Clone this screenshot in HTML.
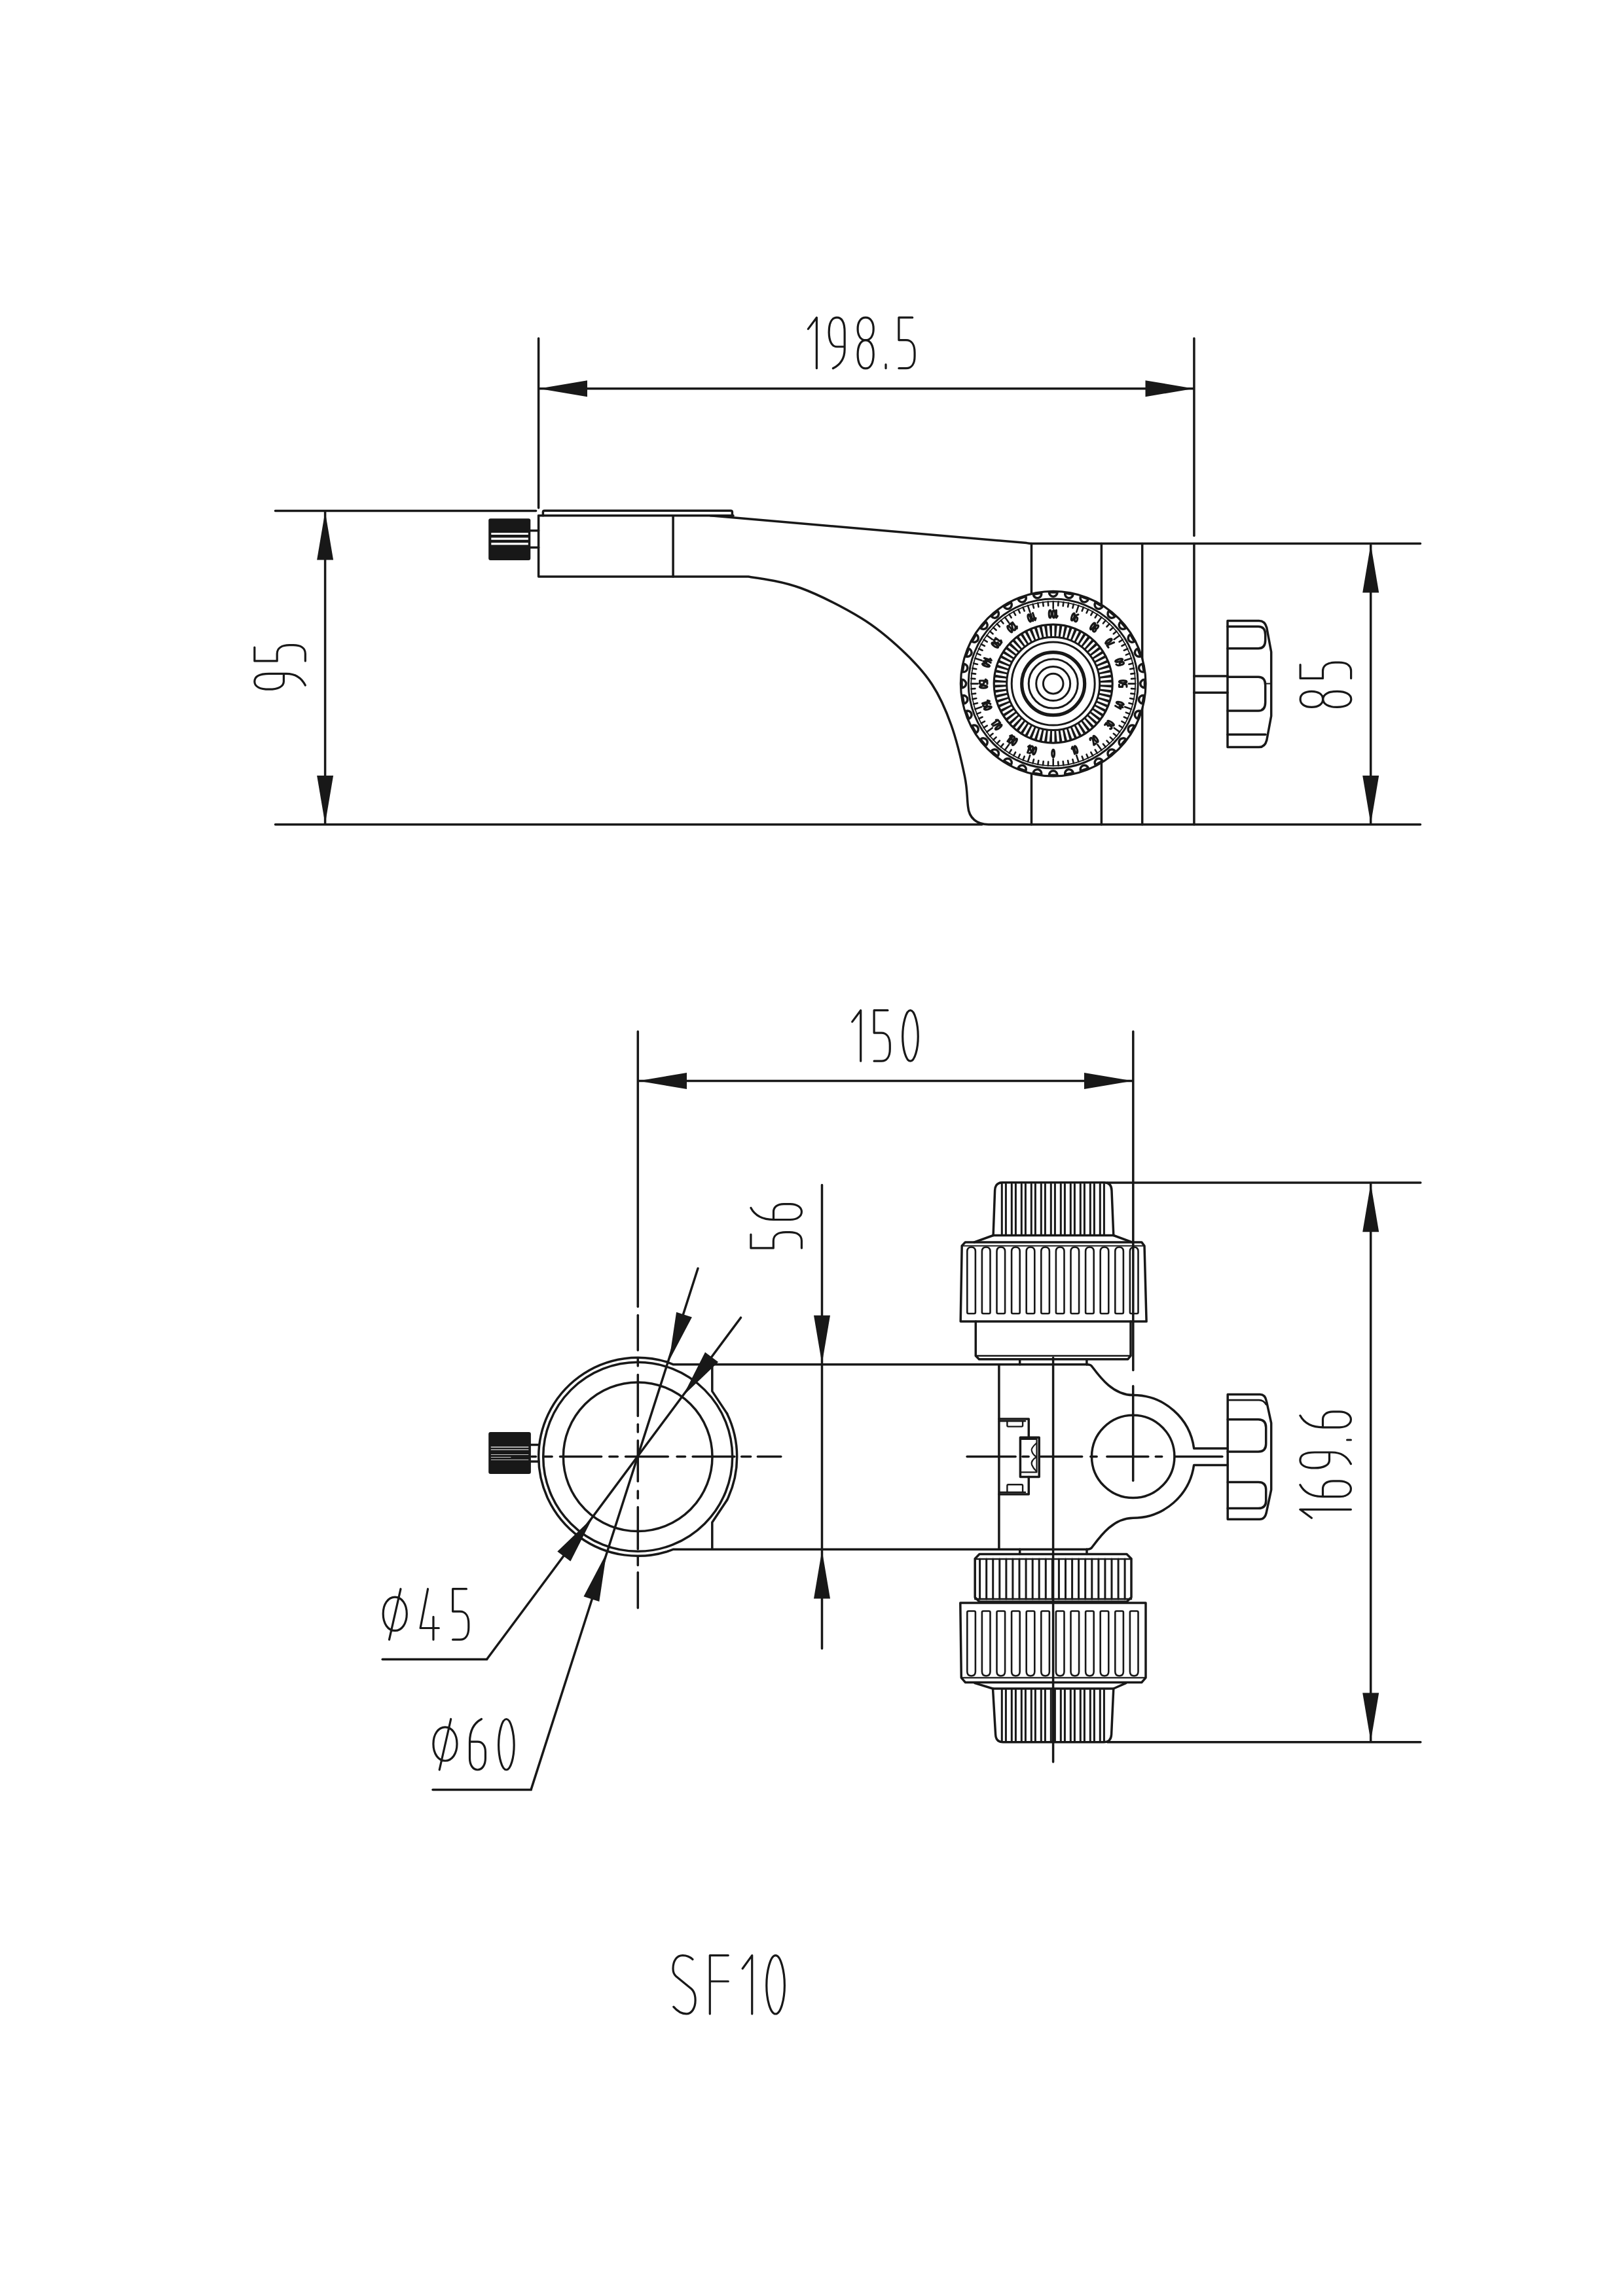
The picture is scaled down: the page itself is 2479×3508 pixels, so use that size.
<!DOCTYPE html>
<html><head><meta charset="utf-8"><title>SF10</title>
<style>html,body{margin:0;padding:0;background:#fff;} svg{display:block;}</style>
</head><body>
<svg width="2479" height="3508" viewBox="0 0 2479 3508"><g stroke="#181818" stroke-linecap="round" stroke-linejoin="round" fill="none"><line x1="822.6" y1="517" x2="822.6" y2="776" stroke-width="3.5" />
<line x1="1823.9" y1="517" x2="1823.9" y2="818.6" stroke-width="3.5" />
<line x1="823" y1="593.7" x2="1823" y2="593.7" stroke-width="3.5" />
<path d="M823,593.7 L897,581.2 L897,606.2 Z" fill="#181818" stroke="none"/>
<path d="M1823.5,593.7 L1749.5,606.2 L1749.5,581.2 Z" fill="#181818" stroke="none"/>
<path d="M0,18 L13,0 V80" transform="matrix(1.0000,0,0,0.9690,1234.4,485.2)" stroke-width="3.2" fill="none" vector-effect="non-scaling-stroke"/>
<path d="M27,46 H13.5 C5,46 0,37 0,23 C0,8 5,0 13.5,0 C22,0 27,8 27,23 V50 C27,65 20,74 7,80" transform="matrix(0.8860,0,0,0.9690,1266.2,485.2)" stroke-width="3.2" fill="none" vector-effect="non-scaling-stroke"/>
<path d="M13.6,0 C22,0 27.2,6.8 27.2,17.8 C27.2,28.8 22,35.6 13.6,35.6 C5.2,35.6 0,28.8 0,17.8 C0,6.8 5.2,0 13.6,0 Z M13.6,35.8 C22,35.8 27.2,44.2 27.2,58 C27.2,71.8 22,80.2 13.6,80.2 C5.2,80.2 0,71.8 0,58 C0,44.2 5.2,35.8 13.6,35.8 Z" transform="matrix(0.8860,0,0,0.9690,1310.1,485.2)" stroke-width="3.2" fill="none" vector-effect="non-scaling-stroke"/>
<path d="M0,74 V80" transform="matrix(1.0000,0,0,0.9690,1353,485.2)" stroke-width="3.2" fill="none" vector-effect="non-scaling-stroke"/>
<path d="M23.5,0 H0 V35.5 H12.5 C22,35.5 27.3,43 27.3,55 V61 C27.3,73 22,80 12.5,80 H0" transform="matrix(0.8860,0,0,0.9690,1372.9,485.2)" stroke-width="3.2" fill="none" vector-effect="non-scaling-stroke"/>
<line x1="420.5" y1="780.4" x2="818.6" y2="780.4" stroke-width="3.5" />
<line x1="420.5" y1="1259.8" x2="1500" y2="1259.8" stroke-width="3.5" />
<line x1="496.6" y1="781" x2="496.6" y2="1259" stroke-width="3.5" />
<path d="M496.6,781.5 L509.1,855.5 L484.1,855.5 Z" fill="#181818" stroke="none"/>
<path d="M496.6,1259 L484.1,1185 L509.1,1185 Z" fill="#181818" stroke="none"/>
<path d="M27,46 H13.5 C5,46 0,37 0,23 C0,8 5,0 13.5,0 C22,0 27,8 27,23 V50 C27,65 20,74 7,80" transform="matrix(0,-0.8860,0.9690,0,388.8,1053.2)" stroke-width="3.2" fill="none" vector-effect="non-scaling-stroke"/>
<path d="M23.5,0 H0 V35.5 H12.5 C22,35.5 27.3,43 27.3,55 V61 C27.3,73 22,80 12.5,80 H0" transform="matrix(0,-0.8860,0.9690,0,388.8,1009.9)" stroke-width="3.2" fill="none" vector-effect="non-scaling-stroke"/>
<rect x="746.2" y="792.3" width="64.1" height="63.8" rx="3" fill="#181818" stroke="none"/>
<line x1="750.3" y1="815.5" x2="806.8" y2="815.5" stroke="#fff" stroke-width="3.2" stroke-linecap="butt"/>
<line x1="750.3" y1="823.2" x2="806.8" y2="823.2" stroke="#fff" stroke-width="3.2" stroke-linecap="butt"/>
<line x1="750.3" y1="830.9" x2="806.8" y2="830.9" stroke="#fff" stroke-width="3.2" stroke-linecap="butt"/>
<line x1="810.3" y1="810.8" x2="822.6" y2="810.8" stroke-width="3.5" />
<line x1="810.3" y1="836.4" x2="822.6" y2="836.4" stroke-width="3.5" />
<path d="M822.6,787.7 V881.1 H1100 L1143.1,881.1 C1163.6,884 1194.5,887.9 1223.2,898.5 C1252,909.1 1289.9,928.8 1315.6,944.5 C1341.3,960.2 1359.3,976.2 1377.3,993 C1395.3,1009.8 1410.9,1026.3 1423.5,1045.5 C1436.1,1064.7 1444.7,1084.6 1453,1108 C1461.3,1131.4 1469.2,1165.3 1473.5,1186 C1477.8,1206.7 1476.8,1218 1478.5,1232 C1480,1250 1492,1259.8 1510,1259.8 H2169.5" stroke-width="3.5" fill="none" />
<line x1="1028.1" y1="787.7" x2="1028.1" y2="881.1" stroke-width="3.5" />
<path d="M822.6,787.7 H1120" stroke-width="3.5" fill="none" />
<path d="M829.4,787.7 V782.5 Q829.4,780.3 831.6,780.3 H1116.2 Q1118.4,780.3 1118.4,782.5 V787.7" stroke-width="3.5" fill="none" />
<path d="M1085,787.7 L1568,829.6 Q1572,830.4 1575.5,830.4 H2169.5" stroke-width="3.5" fill="none" />
<line x1="1575.5" y1="830.4" x2="1575.5" y2="1259.8" stroke-width="3.5" />
<line x1="1682.4" y1="830.4" x2="1682.4" y2="1259.8" stroke-width="3.5" />
<line x1="1744.7" y1="830.4" x2="1744.7" y2="1259.8" stroke-width="3.5" />
<line x1="1823.9" y1="830.4" x2="1823.9" y2="1259.8" stroke-width="3.5" />
<line x1="2093.7" y1="833" x2="2093.7" y2="1259" stroke-width="3.5" />
<path d="M2093.7,831.5 L2106.2,905.5 L2081.2,905.5 Z" fill="#181818" stroke="none"/>
<path d="M2093.7,1259 L2081.2,1185 L2106.2,1185 Z" fill="#181818" stroke="none"/>
<path d="M13.6,0 C22,0 27.2,6.8 27.2,17.8 C27.2,28.8 22,35.6 13.6,35.6 C5.2,35.6 0,28.8 0,17.8 C0,6.8 5.2,0 13.6,0 Z M13.6,35.8 C22,35.8 27.2,44.2 27.2,58 C27.2,71.8 22,80.2 13.6,80.2 C5.2,80.2 0,71.8 0,58 C0,44.2 5.2,35.8 13.6,35.8 Z" transform="matrix(0,-0.8860,0.9690,0,1986.1,1080.4)" stroke-width="3.2" fill="none" vector-effect="non-scaling-stroke"/>
<path d="M23.5,0 H0 V35.5 H12.5 C22,35.5 27.3,43 27.3,55 V61 C27.3,73 22,80 12.5,80 H0" transform="matrix(0,-0.8860,0.9690,0,1986.1,1036.4)" stroke-width="3.2" fill="none" vector-effect="non-scaling-stroke"/>
<line x1="1823.9" y1="1032.9" x2="1875" y2="1032.9" stroke-width="3.5" />
<line x1="1823.9" y1="1058.3" x2="1875" y2="1058.3" stroke-width="3.5" />
<path d="M1875,948.6 H1923 Q1932,948.6 1934.8,959 L1941.7,996 V1094 L1934.8,1131 Q1932,1141.6 1923,1141.6 H1875 Z" stroke-width="3.5" fill="none" />
<path d="M1875,957.2 H1922 Q1932.7,957.2 1932.7,970 V978 Q1932.7,990.8 1922,990.8 H1875" stroke-width="3.5" fill="none" />
<path d="M1875,1034.2 H1922 Q1932.7,1034.2 1932.7,1047 V1073 Q1932.7,1086 1922,1086 H1875" stroke-width="3.5" fill="none" />
<path d="M1875,1122.2 H1933" stroke-width="3.5" fill="none" />
<line x1="1932.7" y1="1044.6" x2="1940" y2="1044.6" stroke-width="2" />
<circle cx="1608.7" cy="1044.6" r="141.3" stroke-width="3.2" fill="#fff"/>
<path d="M1602.4,904.9 A6.3,6.6 0 0 0 1615,904.9 Z" stroke-width="3.5" fill="none" />
<path d="M1626.7,906 A6.3,6.6 10 0 0 1639.2,908.2 Z" stroke-width="3.5" fill="none" />
<path d="M1650.5,911.2 A6.3,6.6 20 0 0 1662.4,915.5 Z" stroke-width="3.5" fill="none" />
<path d="M1673,920.5 A6.3,6.6 30 0 0 1684,926.8 Z" stroke-width="3.5" fill="none" />
<path d="M1693.6,933.5 A6.3,6.6 40 0 0 1703.3,941.7 Z" stroke-width="3.5" fill="none" />
<path d="M1711.6,950 A6.3,6.6 50 0 0 1719.8,959.7 Z" stroke-width="3.5" fill="none" />
<path d="M1726.5,969.3 A6.3,6.6 60 0 0 1732.8,980.3 Z" stroke-width="3.5" fill="none" />
<path d="M1737.8,990.9 A6.3,6.6 70 0 0 1742.1,1002.8 Z" stroke-width="3.5" fill="none" />
<path d="M1745.1,1014.1 A6.3,6.6 80 0 0 1747.3,1026.6 Z" stroke-width="3.5" fill="none" />
<path d="M1748.4,1038.3 A6.3,6.6 90 0 0 1748.4,1050.9 Z" stroke-width="3.5" fill="none" />
<path d="M1747.3,1062.6 A6.3,6.6 100 0 0 1745.1,1075.1 Z" stroke-width="3.5" fill="none" />
<path d="M1742.1,1086.4 A6.3,6.6 110 0 0 1737.8,1098.3 Z" stroke-width="3.5" fill="none" />
<path d="M1732.8,1108.9 A6.3,6.6 120 0 0 1726.5,1119.9 Z" stroke-width="3.5" fill="none" />
<path d="M1719.8,1129.5 A6.3,6.6 130 0 0 1711.6,1139.2 Z" stroke-width="3.5" fill="none" />
<path d="M1703.3,1147.5 A6.3,6.6 140 0 0 1693.6,1155.7 Z" stroke-width="3.5" fill="none" />
<path d="M1684,1162.4 A6.3,6.6 150 0 0 1673,1168.7 Z" stroke-width="3.5" fill="none" />
<path d="M1662.4,1173.7 A6.3,6.6 160 0 0 1650.5,1178 Z" stroke-width="3.5" fill="none" />
<path d="M1639.2,1181 A6.3,6.6 170 0 0 1626.7,1183.2 Z" stroke-width="3.5" fill="none" />
<path d="M1615,1184.3 A6.3,6.6 180 0 0 1602.4,1184.3 Z" stroke-width="3.5" fill="none" />
<path d="M1590.7,1183.2 A6.3,6.6 190 0 0 1578.2,1181 Z" stroke-width="3.5" fill="none" />
<path d="M1566.9,1178 A6.3,6.6 200 0 0 1555,1173.7 Z" stroke-width="3.5" fill="none" />
<path d="M1544.4,1168.7 A6.3,6.6 210 0 0 1533.4,1162.4 Z" stroke-width="3.5" fill="none" />
<path d="M1523.8,1155.7 A6.3,6.6 220 0 0 1514.1,1147.5 Z" stroke-width="3.5" fill="none" />
<path d="M1505.8,1139.2 A6.3,6.6 230 0 0 1497.6,1129.5 Z" stroke-width="3.5" fill="none" />
<path d="M1490.9,1119.9 A6.3,6.6 240 0 0 1484.6,1108.9 Z" stroke-width="3.5" fill="none" />
<path d="M1479.6,1098.3 A6.3,6.6 250 0 0 1475.3,1086.4 Z" stroke-width="3.5" fill="none" />
<path d="M1472.3,1075.1 A6.3,6.6 260 0 0 1470.1,1062.6 Z" stroke-width="3.5" fill="none" />
<path d="M1469,1050.9 A6.3,6.6 270 0 0 1469,1038.3 Z" stroke-width="3.5" fill="none" />
<path d="M1470.1,1026.6 A6.3,6.6 280 0 0 1472.3,1014.1 Z" stroke-width="3.5" fill="none" />
<path d="M1475.3,1002.8 A6.3,6.6 290 0 0 1479.6,990.9 Z" stroke-width="3.5" fill="none" />
<path d="M1484.6,980.3 A6.3,6.6 300 0 0 1490.9,969.3 Z" stroke-width="3.5" fill="none" />
<path d="M1497.6,959.7 A6.3,6.6 310 0 0 1505.8,950 Z" stroke-width="3.5" fill="none" />
<path d="M1514.1,941.7 A6.3,6.6 320 0 0 1523.8,933.5 Z" stroke-width="3.5" fill="none" />
<path d="M1533.4,926.8 A6.3,6.6 330 0 0 1544.4,920.5 Z" stroke-width="3.5" fill="none" />
<path d="M1555,915.5 A6.3,6.6 340 0 0 1566.9,911.2 Z" stroke-width="3.5" fill="none" />
<path d="M1578.2,908.2 A6.3,6.6 350 0 0 1590.7,906 Z" stroke-width="3.5" fill="none" />
<circle cx="1608.7" cy="1044.6" r="129.5" stroke-width="3.0" fill="none"/>
<circle cx="1608.7" cy="1044.6" r="125.5" stroke-width="1.8" fill="none"/>
<line x1="1608.7" y1="1170.1" x2="1608.7" y2="1159.6" stroke-width="2.6" />
<line x1="1616.6" y1="1169.9" x2="1616.2" y2="1163.9" stroke-width="2.6" />
<line x1="1624.4" y1="1169.1" x2="1623.7" y2="1163.2" stroke-width="2.6" />
<line x1="1632.2" y1="1167.9" x2="1631.1" y2="1162" stroke-width="2.6" />
<line x1="1639.9" y1="1166.2" x2="1638.4" y2="1160.3" stroke-width="2.6" />
<line x1="1647.5" y1="1164" x2="1644.2" y2="1154" stroke-width="2.6" />
<line x1="1654.9" y1="1161.3" x2="1652.7" y2="1155.7" stroke-width="2.6" />
<line x1="1662.1" y1="1158.2" x2="1659.6" y2="1152.7" stroke-width="2.6" />
<line x1="1669.2" y1="1154.6" x2="1666.3" y2="1149.3" stroke-width="2.6" />
<line x1="1675.9" y1="1150.6" x2="1672.7" y2="1145.5" stroke-width="2.6" />
<line x1="1682.5" y1="1146.1" x2="1676.3" y2="1137.6" stroke-width="2.6" />
<line x1="1688.7" y1="1141.3" x2="1684.9" y2="1136.7" stroke-width="2.6" />
<line x1="1694.6" y1="1136.1" x2="1690.5" y2="1131.7" stroke-width="2.6" />
<line x1="1700.2" y1="1130.5" x2="1695.8" y2="1126.4" stroke-width="2.6" />
<line x1="1705.4" y1="1124.6" x2="1700.8" y2="1120.8" stroke-width="2.6" />
<line x1="1710.2" y1="1118.4" x2="1701.7" y2="1112.2" stroke-width="2.6" />
<line x1="1714.7" y1="1111.8" x2="1709.6" y2="1108.6" stroke-width="2.6" />
<line x1="1718.7" y1="1105.1" x2="1713.4" y2="1102.2" stroke-width="2.6" />
<line x1="1722.3" y1="1098" x2="1716.8" y2="1095.5" stroke-width="2.6" />
<line x1="1725.4" y1="1090.8" x2="1719.8" y2="1088.6" stroke-width="2.6" />
<line x1="1728.1" y1="1083.4" x2="1718.1" y2="1080.1" stroke-width="2.6" />
<line x1="1730.3" y1="1075.8" x2="1724.4" y2="1074.3" stroke-width="2.6" />
<line x1="1732" y1="1068.1" x2="1726.1" y2="1067" stroke-width="2.6" />
<line x1="1733.2" y1="1060.3" x2="1727.3" y2="1059.6" stroke-width="2.6" />
<line x1="1734" y1="1052.5" x2="1728" y2="1052.1" stroke-width="2.6" />
<line x1="1734.2" y1="1044.6" x2="1723.7" y2="1044.6" stroke-width="2.6" />
<line x1="1734" y1="1036.7" x2="1728" y2="1037.1" stroke-width="2.6" />
<line x1="1733.2" y1="1028.9" x2="1727.3" y2="1029.6" stroke-width="2.6" />
<line x1="1732" y1="1021.1" x2="1726.1" y2="1022.2" stroke-width="2.6" />
<line x1="1730.3" y1="1013.4" x2="1724.4" y2="1014.9" stroke-width="2.6" />
<line x1="1728.1" y1="1005.8" x2="1718.1" y2="1009.1" stroke-width="2.6" />
<line x1="1725.4" y1="998.4" x2="1719.8" y2="1000.6" stroke-width="2.6" />
<line x1="1722.3" y1="991.2" x2="1716.8" y2="993.7" stroke-width="2.6" />
<line x1="1718.7" y1="984.1" x2="1713.4" y2="987" stroke-width="2.6" />
<line x1="1714.7" y1="977.4" x2="1709.6" y2="980.6" stroke-width="2.6" />
<line x1="1710.2" y1="970.8" x2="1701.7" y2="977" stroke-width="2.6" />
<line x1="1705.4" y1="964.6" x2="1700.8" y2="968.4" stroke-width="2.6" />
<line x1="1700.2" y1="958.7" x2="1695.8" y2="962.8" stroke-width="2.6" />
<line x1="1694.6" y1="953.1" x2="1690.5" y2="957.5" stroke-width="2.6" />
<line x1="1688.7" y1="947.9" x2="1684.9" y2="952.5" stroke-width="2.6" />
<line x1="1682.5" y1="943.1" x2="1676.3" y2="951.6" stroke-width="2.6" />
<line x1="1675.9" y1="938.6" x2="1672.7" y2="943.7" stroke-width="2.6" />
<line x1="1669.2" y1="934.6" x2="1666.3" y2="939.9" stroke-width="2.6" />
<line x1="1662.1" y1="931" x2="1659.6" y2="936.5" stroke-width="2.6" />
<line x1="1654.9" y1="927.9" x2="1652.7" y2="933.5" stroke-width="2.6" />
<line x1="1647.5" y1="925.2" x2="1644.2" y2="935.2" stroke-width="2.6" />
<line x1="1639.9" y1="923" x2="1638.4" y2="928.9" stroke-width="2.6" />
<line x1="1632.2" y1="921.3" x2="1631.1" y2="927.2" stroke-width="2.6" />
<line x1="1624.4" y1="920.1" x2="1623.7" y2="926" stroke-width="2.6" />
<line x1="1616.6" y1="919.3" x2="1616.2" y2="925.3" stroke-width="2.6" />
<line x1="1608.7" y1="919.1" x2="1608.7" y2="929.6" stroke-width="2.6" />
<line x1="1600.8" y1="919.3" x2="1601.2" y2="925.3" stroke-width="2.6" />
<line x1="1593" y1="920.1" x2="1593.7" y2="926" stroke-width="2.6" />
<line x1="1585.2" y1="921.3" x2="1586.3" y2="927.2" stroke-width="2.6" />
<line x1="1577.5" y1="923" x2="1579" y2="928.9" stroke-width="2.6" />
<line x1="1569.9" y1="925.2" x2="1573.2" y2="935.2" stroke-width="2.6" />
<line x1="1562.5" y1="927.9" x2="1564.7" y2="933.5" stroke-width="2.6" />
<line x1="1555.3" y1="931" x2="1557.8" y2="936.5" stroke-width="2.6" />
<line x1="1548.2" y1="934.6" x2="1551.1" y2="939.9" stroke-width="2.6" />
<line x1="1541.5" y1="938.6" x2="1544.7" y2="943.7" stroke-width="2.6" />
<line x1="1534.9" y1="943.1" x2="1541.1" y2="951.6" stroke-width="2.6" />
<line x1="1528.7" y1="947.9" x2="1532.5" y2="952.5" stroke-width="2.6" />
<line x1="1522.8" y1="953.1" x2="1526.9" y2="957.5" stroke-width="2.6" />
<line x1="1517.2" y1="958.7" x2="1521.6" y2="962.8" stroke-width="2.6" />
<line x1="1512" y1="964.6" x2="1516.6" y2="968.4" stroke-width="2.6" />
<line x1="1507.2" y1="970.8" x2="1515.7" y2="977" stroke-width="2.6" />
<line x1="1502.7" y1="977.4" x2="1507.8" y2="980.6" stroke-width="2.6" />
<line x1="1498.7" y1="984.1" x2="1504" y2="987" stroke-width="2.6" />
<line x1="1495.1" y1="991.2" x2="1500.6" y2="993.7" stroke-width="2.6" />
<line x1="1492" y1="998.4" x2="1497.6" y2="1000.6" stroke-width="2.6" />
<line x1="1489.3" y1="1005.8" x2="1499.3" y2="1009.1" stroke-width="2.6" />
<line x1="1487.1" y1="1013.4" x2="1493" y2="1014.9" stroke-width="2.6" />
<line x1="1485.4" y1="1021.1" x2="1491.3" y2="1022.2" stroke-width="2.6" />
<line x1="1484.2" y1="1028.9" x2="1490.1" y2="1029.6" stroke-width="2.6" />
<line x1="1483.4" y1="1036.7" x2="1489.4" y2="1037.1" stroke-width="2.6" />
<line x1="1483.2" y1="1044.6" x2="1493.7" y2="1044.6" stroke-width="2.6" />
<line x1="1483.4" y1="1052.5" x2="1489.4" y2="1052.1" stroke-width="2.6" />
<line x1="1484.2" y1="1060.3" x2="1490.1" y2="1059.6" stroke-width="2.6" />
<line x1="1485.4" y1="1068.1" x2="1491.3" y2="1067" stroke-width="2.6" />
<line x1="1487.1" y1="1075.8" x2="1493" y2="1074.3" stroke-width="2.6" />
<line x1="1489.3" y1="1083.4" x2="1499.3" y2="1080.1" stroke-width="2.6" />
<line x1="1492" y1="1090.8" x2="1497.6" y2="1088.6" stroke-width="2.6" />
<line x1="1495.1" y1="1098" x2="1500.6" y2="1095.5" stroke-width="2.6" />
<line x1="1498.7" y1="1105.1" x2="1504" y2="1102.2" stroke-width="2.6" />
<line x1="1502.7" y1="1111.8" x2="1507.8" y2="1108.6" stroke-width="2.6" />
<line x1="1507.2" y1="1118.4" x2="1515.7" y2="1112.2" stroke-width="2.6" />
<line x1="1512" y1="1124.6" x2="1516.6" y2="1120.8" stroke-width="2.6" />
<line x1="1517.2" y1="1130.5" x2="1521.6" y2="1126.4" stroke-width="2.6" />
<line x1="1522.8" y1="1136.1" x2="1526.9" y2="1131.7" stroke-width="2.6" />
<line x1="1528.7" y1="1141.3" x2="1532.5" y2="1136.7" stroke-width="2.6" />
<line x1="1534.9" y1="1146.1" x2="1541.1" y2="1137.6" stroke-width="2.6" />
<line x1="1541.5" y1="1150.6" x2="1544.7" y2="1145.5" stroke-width="2.6" />
<line x1="1548.2" y1="1154.6" x2="1551.1" y2="1149.3" stroke-width="2.6" />
<line x1="1555.3" y1="1158.2" x2="1557.8" y2="1152.7" stroke-width="2.6" />
<line x1="1562.5" y1="1161.3" x2="1564.7" y2="1155.7" stroke-width="2.6" />
<line x1="1569.9" y1="1164" x2="1573.2" y2="1154" stroke-width="2.6" />
<line x1="1577.5" y1="1166.2" x2="1579" y2="1160.3" stroke-width="2.6" />
<line x1="1585.2" y1="1167.9" x2="1586.3" y2="1162" stroke-width="2.6" />
<line x1="1593" y1="1169.1" x2="1593.7" y2="1163.2" stroke-width="2.6" />
<line x1="1600.8" y1="1169.9" x2="1601.2" y2="1163.9" stroke-width="2.6" />
<g transform="translate(1608.7,1151.1) rotate(0) scale(0.1437)"><path d="M13.3,0 C21,0 26.6,22 26.6,41 C26.6,60 21,80 13.3,80 C5.6,80 0,60 0,41 C0,22 5.6,0 13.3,0 Z" transform="translate(-13.5,-40)" stroke-width="3.1" vector-effect="non-scaling-stroke" fill="none"/></g>
<g transform="translate(1641.6,1145.9) rotate(-18) scale(0.1437)"><path d="M0,18 L13,0 V80" transform="translate(-26,-40)" stroke-width="3.1" vector-effect="non-scaling-stroke" fill="none"/><path d="M13.3,0 C21,0 26.6,22 26.6,41 C26.6,60 21,80 13.3,80 C5.6,80 0,60 0,41 C0,22 5.6,0 13.3,0 Z" transform="translate(-1,-40)" stroke-width="3.1" vector-effect="non-scaling-stroke" fill="none"/></g>
<g transform="translate(1671.3,1130.8) rotate(-36) scale(0.1437)"><path d="M0,15 C2,5 7,0 13.5,0 C21,0 27,6 27,18 C27,32 18,44 0,80 H27" transform="translate(-33,-40)" stroke-width="3.1" vector-effect="non-scaling-stroke" fill="none"/><path d="M13.3,0 C21,0 26.6,22 26.6,41 C26.6,60 21,80 13.3,80 C5.6,80 0,60 0,41 C0,22 5.6,0 13.3,0 Z" transform="translate(6,-40)" stroke-width="3.1" vector-effect="non-scaling-stroke" fill="none"/></g>
<g transform="translate(1694.9,1107.2) rotate(-54) scale(0.1437)"><path d="M1,0 H26 L12,33 C22,33 27,42 27,55 C27,70 21,80 13,80 C6,80 2,76 0,70" transform="translate(-33,-40)" stroke-width="3.1" vector-effect="non-scaling-stroke" fill="none"/><path d="M13.3,0 C21,0 26.6,22 26.6,41 C26.6,60 21,80 13.3,80 C5.6,80 0,60 0,41 C0,22 5.6,0 13.3,0 Z" transform="translate(6,-40)" stroke-width="3.1" vector-effect="non-scaling-stroke" fill="none"/></g>
<g transform="translate(1710,1077.5) rotate(-72) scale(0.1437)"><path d="M12.9,0 L0,61.7 H31.8 M22.4,44 V80" transform="translate(-33,-40)" stroke-width="3.1" vector-effect="non-scaling-stroke" fill="none"/><path d="M13.3,0 C21,0 26.6,22 26.6,41 C26.6,60 21,80 13.3,80 C5.6,80 0,60 0,41 C0,22 5.6,0 13.3,0 Z" transform="translate(6,-40)" stroke-width="3.1" vector-effect="non-scaling-stroke" fill="none"/></g>
<g transform="translate(1715.2,1044.6) rotate(-90) scale(0.1437)"><path d="M23.5,0 H0 V35.5 H12.5 C22,35.5 27.3,43 27.3,55 V61 C27.3,73 22,80 12.5,80 H0" transform="translate(-33,-40)" stroke-width="3.1" vector-effect="non-scaling-stroke" fill="none"/><path d="M13.3,0 C21,0 26.6,22 26.6,41 C26.6,60 21,80 13.3,80 C5.6,80 0,60 0,41 C0,22 5.6,0 13.3,0 Z" transform="translate(6,-40)" stroke-width="3.1" vector-effect="non-scaling-stroke" fill="none"/></g>
<g transform="translate(1710,1011.7) rotate(-108) scale(0.1437)"><path d="M20.3,0 C8,6 0,18 0,36 V62 C0,73 6,80 13.5,80 C21,80 27,73 27,62 V52 C27,41 21,35.7 13.5,35.7 H0" transform="translate(-33,-40)" stroke-width="3.1" vector-effect="non-scaling-stroke" fill="none"/><path d="M13.3,0 C21,0 26.6,22 26.6,41 C26.6,60 21,80 13.3,80 C5.6,80 0,60 0,41 C0,22 5.6,0 13.3,0 Z" transform="translate(6,-40)" stroke-width="3.1" vector-effect="non-scaling-stroke" fill="none"/></g>
<g transform="translate(1694.9,982) rotate(-126) scale(0.1437)"><path d="M0,0 H27 L8,80" transform="translate(-33,-40)" stroke-width="3.1" vector-effect="non-scaling-stroke" fill="none"/><path d="M13.3,0 C21,0 26.6,22 26.6,41 C26.6,60 21,80 13.3,80 C5.6,80 0,60 0,41 C0,22 5.6,0 13.3,0 Z" transform="translate(6,-40)" stroke-width="3.1" vector-effect="non-scaling-stroke" fill="none"/></g>
<g transform="translate(1671.3,958.4) rotate(-144) scale(0.1437)"><path d="M13.6,0 C22,0 27.2,6.8 27.2,17.8 C27.2,28.8 22,35.6 13.6,35.6 C5.2,35.6 0,28.8 0,17.8 C0,6.8 5.2,0 13.6,0 Z M13.6,35.8 C22,35.8 27.2,44.2 27.2,58 C27.2,71.8 22,80.2 13.6,80.2 C5.2,80.2 0,71.8 0,58 C0,44.2 5.2,35.8 13.6,35.8 Z" transform="translate(-33,-40)" stroke-width="3.1" vector-effect="non-scaling-stroke" fill="none"/><path d="M13.3,0 C21,0 26.6,22 26.6,41 C26.6,60 21,80 13.3,80 C5.6,80 0,60 0,41 C0,22 5.6,0 13.3,0 Z" transform="translate(6,-40)" stroke-width="3.1" vector-effect="non-scaling-stroke" fill="none"/></g>
<g transform="translate(1641.6,943.3) rotate(-162) scale(0.1437)"><path d="M27,46 H13.5 C5,46 0,37 0,23 C0,8 5,0 13.5,0 C22,0 27,8 27,23 V50 C27,65 20,74 7,80" transform="translate(-33,-40)" stroke-width="3.1" vector-effect="non-scaling-stroke" fill="none"/><path d="M13.3,0 C21,0 26.6,22 26.6,41 C26.6,60 21,80 13.3,80 C5.6,80 0,60 0,41 C0,22 5.6,0 13.3,0 Z" transform="translate(6,-40)" stroke-width="3.1" vector-effect="non-scaling-stroke" fill="none"/></g>
<g transform="translate(1608.7,938.1) rotate(-180) scale(0.1437)"><path d="M0,18 L13,0 V80" transform="translate(-45.5,-40)" stroke-width="3.1" vector-effect="non-scaling-stroke" fill="none"/><path d="M13.3,0 C21,0 26.6,22 26.6,41 C26.6,60 21,80 13.3,80 C5.6,80 0,60 0,41 C0,22 5.6,0 13.3,0 Z" transform="translate(-20.5,-40)" stroke-width="3.1" vector-effect="non-scaling-stroke" fill="none"/><path d="M13.3,0 C21,0 26.6,22 26.6,41 C26.6,60 21,80 13.3,80 C5.6,80 0,60 0,41 C0,22 5.6,0 13.3,0 Z" transform="translate(18.5,-40)" stroke-width="3.1" vector-effect="non-scaling-stroke" fill="none"/></g>
<g transform="translate(1575.8,943.3) rotate(-198) scale(0.1437)"><path d="M0,18 L13,0 V80" transform="translate(-38.5,-40)" stroke-width="3.1" vector-effect="non-scaling-stroke" fill="none"/><path d="M0,18 L13,0 V80" transform="translate(-13.5,-40)" stroke-width="3.1" vector-effect="non-scaling-stroke" fill="none"/><path d="M13.3,0 C21,0 26.6,22 26.6,41 C26.6,60 21,80 13.3,80 C5.6,80 0,60 0,41 C0,22 5.6,0 13.3,0 Z" transform="translate(11.5,-40)" stroke-width="3.1" vector-effect="non-scaling-stroke" fill="none"/></g>
<g transform="translate(1546.1,958.4) rotate(-216) scale(0.1437)"><path d="M0,18 L13,0 V80" transform="translate(-45.5,-40)" stroke-width="3.1" vector-effect="non-scaling-stroke" fill="none"/><path d="M0,15 C2,5 7,0 13.5,0 C21,0 27,6 27,18 C27,32 18,44 0,80 H27" transform="translate(-20.5,-40)" stroke-width="3.1" vector-effect="non-scaling-stroke" fill="none"/><path d="M13.3,0 C21,0 26.6,22 26.6,41 C26.6,60 21,80 13.3,80 C5.6,80 0,60 0,41 C0,22 5.6,0 13.3,0 Z" transform="translate(18.5,-40)" stroke-width="3.1" vector-effect="non-scaling-stroke" fill="none"/></g>
<g transform="translate(1522.5,982) rotate(-234) scale(0.1437)"><path d="M0,18 L13,0 V80" transform="translate(-45.5,-40)" stroke-width="3.1" vector-effect="non-scaling-stroke" fill="none"/><path d="M1,0 H26 L12,33 C22,33 27,42 27,55 C27,70 21,80 13,80 C6,80 2,76 0,70" transform="translate(-20.5,-40)" stroke-width="3.1" vector-effect="non-scaling-stroke" fill="none"/><path d="M13.3,0 C21,0 26.6,22 26.6,41 C26.6,60 21,80 13.3,80 C5.6,80 0,60 0,41 C0,22 5.6,0 13.3,0 Z" transform="translate(18.5,-40)" stroke-width="3.1" vector-effect="non-scaling-stroke" fill="none"/></g>
<g transform="translate(1507.4,1011.7) rotate(-252) scale(0.1437)"><path d="M0,18 L13,0 V80" transform="translate(-45.5,-40)" stroke-width="3.1" vector-effect="non-scaling-stroke" fill="none"/><path d="M12.9,0 L0,61.7 H31.8 M22.4,44 V80" transform="translate(-20.5,-40)" stroke-width="3.1" vector-effect="non-scaling-stroke" fill="none"/><path d="M13.3,0 C21,0 26.6,22 26.6,41 C26.6,60 21,80 13.3,80 C5.6,80 0,60 0,41 C0,22 5.6,0 13.3,0 Z" transform="translate(18.5,-40)" stroke-width="3.1" vector-effect="non-scaling-stroke" fill="none"/></g>
<g transform="translate(1502.2,1044.6) rotate(-270) scale(0.1437)"><path d="M0,18 L13,0 V80" transform="translate(-45.5,-40)" stroke-width="3.1" vector-effect="non-scaling-stroke" fill="none"/><path d="M23.5,0 H0 V35.5 H12.5 C22,35.5 27.3,43 27.3,55 V61 C27.3,73 22,80 12.5,80 H0" transform="translate(-20.5,-40)" stroke-width="3.1" vector-effect="non-scaling-stroke" fill="none"/><path d="M13.3,0 C21,0 26.6,22 26.6,41 C26.6,60 21,80 13.3,80 C5.6,80 0,60 0,41 C0,22 5.6,0 13.3,0 Z" transform="translate(18.5,-40)" stroke-width="3.1" vector-effect="non-scaling-stroke" fill="none"/></g>
<g transform="translate(1507.4,1077.5) rotate(-288) scale(0.1437)"><path d="M0,18 L13,0 V80" transform="translate(-45.5,-40)" stroke-width="3.1" vector-effect="non-scaling-stroke" fill="none"/><path d="M20.3,0 C8,6 0,18 0,36 V62 C0,73 6,80 13.5,80 C21,80 27,73 27,62 V52 C27,41 21,35.7 13.5,35.7 H0" transform="translate(-20.5,-40)" stroke-width="3.1" vector-effect="non-scaling-stroke" fill="none"/><path d="M13.3,0 C21,0 26.6,22 26.6,41 C26.6,60 21,80 13.3,80 C5.6,80 0,60 0,41 C0,22 5.6,0 13.3,0 Z" transform="translate(18.5,-40)" stroke-width="3.1" vector-effect="non-scaling-stroke" fill="none"/></g>
<g transform="translate(1522.5,1107.2) rotate(-306) scale(0.1437)"><path d="M0,18 L13,0 V80" transform="translate(-45.5,-40)" stroke-width="3.1" vector-effect="non-scaling-stroke" fill="none"/><path d="M0,0 H27 L8,80" transform="translate(-20.5,-40)" stroke-width="3.1" vector-effect="non-scaling-stroke" fill="none"/><path d="M13.3,0 C21,0 26.6,22 26.6,41 C26.6,60 21,80 13.3,80 C5.6,80 0,60 0,41 C0,22 5.6,0 13.3,0 Z" transform="translate(18.5,-40)" stroke-width="3.1" vector-effect="non-scaling-stroke" fill="none"/></g>
<g transform="translate(1546.1,1130.8) rotate(-324) scale(0.1437)"><path d="M0,18 L13,0 V80" transform="translate(-45.5,-40)" stroke-width="3.1" vector-effect="non-scaling-stroke" fill="none"/><path d="M13.6,0 C22,0 27.2,6.8 27.2,17.8 C27.2,28.8 22,35.6 13.6,35.6 C5.2,35.6 0,28.8 0,17.8 C0,6.8 5.2,0 13.6,0 Z M13.6,35.8 C22,35.8 27.2,44.2 27.2,58 C27.2,71.8 22,80.2 13.6,80.2 C5.2,80.2 0,71.8 0,58 C0,44.2 5.2,35.8 13.6,35.8 Z" transform="translate(-20.5,-40)" stroke-width="3.1" vector-effect="non-scaling-stroke" fill="none"/><path d="M13.3,0 C21,0 26.6,22 26.6,41 C26.6,60 21,80 13.3,80 C5.6,80 0,60 0,41 C0,22 5.6,0 13.3,0 Z" transform="translate(18.5,-40)" stroke-width="3.1" vector-effect="non-scaling-stroke" fill="none"/></g>
<g transform="translate(1575.8,1145.9) rotate(-342) scale(0.1437)"><path d="M0,18 L13,0 V80" transform="translate(-45.5,-40)" stroke-width="3.1" vector-effect="non-scaling-stroke" fill="none"/><path d="M27,46 H13.5 C5,46 0,37 0,23 C0,8 5,0 13.5,0 C22,0 27,8 27,23 V50 C27,65 20,74 7,80" transform="translate(-20.5,-40)" stroke-width="3.1" vector-effect="non-scaling-stroke" fill="none"/><path d="M13.3,0 C21,0 26.6,22 26.6,41 C26.6,60 21,80 13.3,80 C5.6,80 0,60 0,41 C0,22 5.6,0 13.3,0 Z" transform="translate(18.5,-40)" stroke-width="3.1" vector-effect="non-scaling-stroke" fill="none"/></g>
<circle cx="1608.7" cy="1044.6" r="90.5" stroke-width="3.2" fill="none"/>
<path d="M1698.2,1046.4 L1698,1050.6 L1679.6,1049 L1679.7,1046.3 Z" fill="#181818" stroke="none"/>
<path d="M1697.7,1054.2 L1697.1,1058.4 L1678.9,1055.2 L1679.3,1052.5 Z" fill="#181818" stroke="none"/>
<path d="M1696.5,1061.9 L1695.6,1066 L1677.7,1061.3 L1678.3,1058.6 Z" fill="#181818" stroke="none"/>
<path d="M1694.7,1069.5 L1693.4,1073.5 L1676,1067.2 L1676.8,1064.7 Z" fill="#181818" stroke="none"/>
<path d="M1692.2,1076.9 L1690.6,1080.8 L1673.8,1073 L1674.8,1070.5 Z" fill="#181818" stroke="none"/>
<path d="M1689,1084.1 L1687.1,1087.8 L1671,1078.6 L1672.3,1076.2 Z" fill="#181818" stroke="none"/>
<path d="M1685.3,1090.9 L1683,1094.4 L1667.8,1083.9 L1669.3,1081.6 Z" fill="#181818" stroke="none"/>
<path d="M1681,1097.4 L1678.4,1100.7 L1664.2,1088.9 L1665.8,1086.7 Z" fill="#181818" stroke="none"/>
<path d="M1676.1,1103.5 L1673.2,1106.6 L1660.1,1093.6 L1661.9,1091.6 Z" fill="#181818" stroke="none"/>
<path d="M1670.7,1109.1 L1667.6,1112 L1655.7,1097.8 L1657.7,1096 Z" fill="#181818" stroke="none"/>
<path d="M1664.8,1114.3 L1661.5,1116.9 L1650.8,1101.7 L1653,1100.1 Z" fill="#181818" stroke="none"/>
<path d="M1658.5,1118.9 L1655,1121.2 L1645.7,1105.2 L1648,1103.7 Z" fill="#181818" stroke="none"/>
<path d="M1651.9,1123 L1648.2,1124.9 L1640.3,1108.2 L1642.7,1106.9 Z" fill="#181818" stroke="none"/>
<path d="M1644.9,1126.5 L1641,1128.1 L1634.6,1110.7 L1637.1,1109.7 Z" fill="#181818" stroke="none"/>
<path d="M1637.6,1129.3 L1633.6,1130.6 L1628.8,1112.7 L1631.3,1111.9 Z" fill="#181818" stroke="none"/>
<path d="M1630.1,1131.5 L1626,1132.4 L1622.7,1114.2 L1625.4,1113.6 Z" fill="#181818" stroke="none"/>
<path d="M1622.5,1133 L1618.3,1133.6 L1616.6,1115.2 L1619.3,1114.8 Z" fill="#181818" stroke="none"/>
<path d="M1614.7,1133.9 L1610.5,1134.1 L1610.4,1115.6 L1613.1,1115.5 Z" fill="#181818" stroke="none"/>
<path d="M1606.9,1134.1 L1602.7,1133.9 L1604.3,1115.5 L1607,1115.6 Z" fill="#181818" stroke="none"/>
<path d="M1599.1,1133.6 L1594.9,1133 L1598.1,1114.8 L1600.8,1115.2 Z" fill="#181818" stroke="none"/>
<path d="M1591.4,1132.4 L1587.3,1131.5 L1592,1113.6 L1594.7,1114.2 Z" fill="#181818" stroke="none"/>
<path d="M1583.8,1130.6 L1579.8,1129.3 L1586.1,1111.9 L1588.6,1112.7 Z" fill="#181818" stroke="none"/>
<path d="M1576.4,1128.1 L1572.5,1126.5 L1580.3,1109.7 L1582.8,1110.7 Z" fill="#181818" stroke="none"/>
<path d="M1569.2,1124.9 L1565.5,1123 L1574.7,1106.9 L1577.1,1108.2 Z" fill="#181818" stroke="none"/>
<path d="M1562.4,1121.2 L1558.9,1118.9 L1569.4,1103.7 L1571.7,1105.2 Z" fill="#181818" stroke="none"/>
<path d="M1555.9,1116.9 L1552.6,1114.3 L1564.4,1100.1 L1566.6,1101.7 Z" fill="#181818" stroke="none"/>
<path d="M1549.8,1112 L1546.7,1109.1 L1559.7,1096 L1561.7,1097.8 Z" fill="#181818" stroke="none"/>
<path d="M1544.2,1106.6 L1541.3,1103.5 L1555.5,1091.6 L1557.3,1093.6 Z" fill="#181818" stroke="none"/>
<path d="M1539,1100.7 L1536.4,1097.4 L1551.6,1086.7 L1553.2,1088.9 Z" fill="#181818" stroke="none"/>
<path d="M1534.4,1094.4 L1532.1,1090.9 L1548.1,1081.6 L1549.6,1083.9 Z" fill="#181818" stroke="none"/>
<path d="M1530.3,1087.8 L1528.4,1084.1 L1545.1,1076.2 L1546.4,1078.6 Z" fill="#181818" stroke="none"/>
<path d="M1526.8,1080.8 L1525.2,1076.9 L1542.6,1070.5 L1543.6,1073 Z" fill="#181818" stroke="none"/>
<path d="M1524,1073.5 L1522.7,1069.5 L1540.6,1064.7 L1541.4,1067.2 Z" fill="#181818" stroke="none"/>
<path d="M1521.8,1066 L1520.9,1061.9 L1539.1,1058.6 L1539.7,1061.3 Z" fill="#181818" stroke="none"/>
<path d="M1520.3,1058.4 L1519.7,1054.2 L1538.1,1052.5 L1538.5,1055.2 Z" fill="#181818" stroke="none"/>
<path d="M1519.4,1050.6 L1519.2,1046.4 L1537.7,1046.3 L1537.8,1049 Z" fill="#181818" stroke="none"/>
<path d="M1519.2,1042.8 L1519.4,1038.6 L1537.8,1040.2 L1537.7,1042.9 Z" fill="#181818" stroke="none"/>
<path d="M1519.7,1035 L1520.3,1030.8 L1538.5,1034 L1538.1,1036.7 Z" fill="#181818" stroke="none"/>
<path d="M1520.9,1027.3 L1521.8,1023.2 L1539.7,1027.9 L1539.1,1030.6 Z" fill="#181818" stroke="none"/>
<path d="M1522.7,1019.7 L1524,1015.7 L1541.4,1022 L1540.6,1024.5 Z" fill="#181818" stroke="none"/>
<path d="M1525.2,1012.3 L1526.8,1008.4 L1543.6,1016.2 L1542.6,1018.7 Z" fill="#181818" stroke="none"/>
<path d="M1528.4,1005.1 L1530.3,1001.4 L1546.4,1010.6 L1545.1,1013 Z" fill="#181818" stroke="none"/>
<path d="M1532.1,998.3 L1534.4,994.8 L1549.6,1005.3 L1548.1,1007.6 Z" fill="#181818" stroke="none"/>
<path d="M1536.4,991.8 L1539,988.5 L1553.2,1000.3 L1551.6,1002.5 Z" fill="#181818" stroke="none"/>
<path d="M1541.3,985.7 L1544.2,982.6 L1557.3,995.6 L1555.5,997.6 Z" fill="#181818" stroke="none"/>
<path d="M1546.7,980.1 L1549.8,977.2 L1561.7,991.4 L1559.7,993.2 Z" fill="#181818" stroke="none"/>
<path d="M1552.6,974.9 L1555.9,972.3 L1566.6,987.5 L1564.4,989.1 Z" fill="#181818" stroke="none"/>
<path d="M1558.9,970.3 L1562.4,968 L1571.7,984 L1569.4,985.5 Z" fill="#181818" stroke="none"/>
<path d="M1565.5,966.2 L1569.2,964.3 L1577.1,981 L1574.7,982.3 Z" fill="#181818" stroke="none"/>
<path d="M1572.5,962.7 L1576.4,961.1 L1582.8,978.5 L1580.3,979.5 Z" fill="#181818" stroke="none"/>
<path d="M1579.8,959.9 L1583.8,958.6 L1588.6,976.5 L1586.1,977.3 Z" fill="#181818" stroke="none"/>
<path d="M1587.3,957.7 L1591.4,956.8 L1594.7,975 L1592,975.6 Z" fill="#181818" stroke="none"/>
<path d="M1594.9,956.2 L1599.1,955.6 L1600.8,974 L1598.1,974.4 Z" fill="#181818" stroke="none"/>
<path d="M1602.7,955.3 L1606.9,955.1 L1607,973.6 L1604.3,973.7 Z" fill="#181818" stroke="none"/>
<path d="M1610.5,955.1 L1614.7,955.3 L1613.1,973.7 L1610.4,973.6 Z" fill="#181818" stroke="none"/>
<path d="M1618.3,955.6 L1622.5,956.2 L1619.3,974.4 L1616.6,974 Z" fill="#181818" stroke="none"/>
<path d="M1626,956.8 L1630.1,957.7 L1625.4,975.6 L1622.7,975 Z" fill="#181818" stroke="none"/>
<path d="M1633.6,958.6 L1637.6,959.9 L1631.3,977.3 L1628.8,976.5 Z" fill="#181818" stroke="none"/>
<path d="M1641,961.1 L1644.9,962.7 L1637.1,979.5 L1634.6,978.5 Z" fill="#181818" stroke="none"/>
<path d="M1648.2,964.3 L1651.9,966.2 L1642.7,982.3 L1640.3,981 Z" fill="#181818" stroke="none"/>
<path d="M1655,968 L1658.5,970.3 L1648,985.5 L1645.7,984 Z" fill="#181818" stroke="none"/>
<path d="M1661.5,972.3 L1664.8,974.9 L1653,989.1 L1650.8,987.5 Z" fill="#181818" stroke="none"/>
<path d="M1667.6,977.2 L1670.7,980.1 L1657.7,993.2 L1655.7,991.4 Z" fill="#181818" stroke="none"/>
<path d="M1673.2,982.6 L1676.1,985.7 L1661.9,997.6 L1660.1,995.6 Z" fill="#181818" stroke="none"/>
<path d="M1678.4,988.5 L1681,991.8 L1665.8,1002.5 L1664.2,1000.3 Z" fill="#181818" stroke="none"/>
<path d="M1683,994.8 L1685.3,998.3 L1669.3,1007.6 L1667.8,1005.3 Z" fill="#181818" stroke="none"/>
<path d="M1687.1,1001.4 L1689,1005.1 L1672.3,1013 L1671,1010.6 Z" fill="#181818" stroke="none"/>
<path d="M1690.6,1008.4 L1692.2,1012.3 L1674.8,1018.7 L1673.8,1016.2 Z" fill="#181818" stroke="none"/>
<path d="M1693.4,1015.7 L1694.7,1019.7 L1676.8,1024.5 L1676,1022 Z" fill="#181818" stroke="none"/>
<path d="M1695.6,1023.2 L1696.5,1027.3 L1678.3,1030.6 L1677.7,1027.9 Z" fill="#181818" stroke="none"/>
<path d="M1697.1,1030.8 L1697.7,1035 L1679.3,1036.7 L1678.9,1034 Z" fill="#181818" stroke="none"/>
<path d="M1698,1038.6 L1698.2,1042.8 L1679.7,1042.9 L1679.6,1040.2 Z" fill="#181818" stroke="none"/>
<circle cx="1608.7" cy="1044.6" r="71" stroke-width="3.0" fill="none"/>
<circle cx="1608.7" cy="1044.6" r="63.5" stroke-width="3.0" fill="none"/>
<circle cx="1608.7" cy="1044.6" r="48" stroke-width="5.2" fill="none"/>
<circle cx="1608.7" cy="1044.6" r="37.5" stroke-width="3.0" fill="none"/>
<circle cx="1608.7" cy="1044.6" r="26" stroke-width="3.0" fill="none"/>
<circle cx="1608.7" cy="1044.6" r="15.3" stroke-width="3.0" fill="none"/>
<line x1="974.3" y1="1576" x2="974.3" y2="1996.5" stroke-width="3.5" />
<line x1="1730.8" y1="1576" x2="1730.8" y2="2093.6" stroke-width="3.5" />
<line x1="975" y1="1651.5" x2="1730" y2="1651.5" stroke-width="3.5" />
<path d="M975,1651.5 L1049,1639 L1049,1664 Z" fill="#181818" stroke="none"/>
<path d="M1730,1651.5 L1656,1664 L1656,1639 Z" fill="#181818" stroke="none"/>
<path d="M0,18 L13,0 V80" transform="matrix(1.0000,0,0,0.9690,1301.7,1543.7)" stroke-width="3.2" fill="none" vector-effect="non-scaling-stroke"/>
<path d="M23.5,0 H0 V35.5 H12.5 C22,35.5 27.3,43 27.3,55 V61 C27.3,73 22,80 12.5,80 H0" transform="matrix(0.8860,0,0,0.9690,1335.1,1543.7)" stroke-width="3.2" fill="none" vector-effect="non-scaling-stroke"/>
<path d="M13.3,0 C21,0 26.6,22 26.6,41 C26.6,60 21,80 13.3,80 C5.6,80 0,60 0,41 C0,22 5.6,0 13.3,0 Z" transform="matrix(0.8860,0,0,0.9690,1378.7,1543.7)" stroke-width="3.2" fill="none" vector-effect="non-scaling-stroke"/>
<line x1="974.3" y1="2009.5" x2="974.3" y2="2063" stroke-width="3.5" />
<line x1="974.3" y1="2076" x2="974.3" y2="2087" stroke-width="3.5" />
<line x1="974.3" y1="2100.5" x2="974.3" y2="2163.5" stroke-width="3.5" />
<line x1="974.3" y1="2176.3" x2="974.3" y2="2188" stroke-width="3.5" />
<line x1="974.3" y1="2201" x2="974.3" y2="2263.3" stroke-width="3.5" />
<line x1="974.3" y1="2278" x2="974.3" y2="2289.2" stroke-width="3.5" />
<line x1="974.3" y1="2302.7" x2="974.3" y2="2366.8" stroke-width="3.5" />
<line x1="974.3" y1="2378" x2="974.3" y2="2391.4" stroke-width="3.5" />
<line x1="974.3" y1="2402.5" x2="974.3" y2="2456.7" stroke-width="3.5" />
<line x1="812" y1="2225.6" x2="818.5" y2="2225.6" stroke-width="3.5" />
<line x1="830.8" y1="2225.6" x2="843.1" y2="2225.6" stroke-width="3.5" />
<line x1="855.5" y1="2225.6" x2="918.6" y2="2225.6" stroke-width="3.5" />
<line x1="930.9" y1="2225.6" x2="943.3" y2="2225.6" stroke-width="3.5" />
<line x1="955.6" y1="2225.6" x2="1020.3" y2="2225.6" stroke-width="3.5" />
<line x1="1034.1" y1="2225.6" x2="1046.5" y2="2225.6" stroke-width="3.5" />
<line x1="1058.2" y1="2225.6" x2="1121.9" y2="2225.6" stroke-width="3.5" />
<line x1="1132.7" y1="2225.6" x2="1146.6" y2="2225.6" stroke-width="3.5" />
<line x1="1157.4" y1="2225.6" x2="1192.8" y2="2225.6" stroke-width="3.5" />
<circle cx="974.2" cy="2225.8" r="113.8" stroke-width="3.5" fill="none"/>
<circle cx="974.2" cy="2225.8" r="144.5" stroke-width="3.5" fill="none"/>
<path d="M1019.7,2081.3 A151.5,151.5 0 1 0 1019.7,2370.3" stroke-width="3.5" fill="none" />
<path d="M1110.6,2159.9 A151.5,151.5 0 0 1 1110.6,2291.7" stroke-width="3.5" fill="none" />
<path d="M1019.7,2081.3 L1028.6,2084.8 H1660" stroke-width="3.5" fill="none" />
<path d="M1019.7,2370.3 L1028.6,2367.2 H1660" stroke-width="3.5" fill="none" />
<path d="M1087.8,2084.8 V2125.6 L1110.6,2159.9" stroke-width="3.5" fill="none" />
<path d="M1087.8,2367.2 V2326 L1110.6,2291.7" stroke-width="3.5" fill="none" />
<rect x="746.2" y="2188.1" width="64.7" height="63.9" rx="3" fill="#181818" stroke="none"/>
<line x1="750.3" y1="2211" x2="806.8" y2="2211" stroke="#ddd" stroke-width="1.4"/>
<line x1="750.3" y1="2214.9" x2="806.8" y2="2214.9" stroke="#ddd" stroke-width="1.4"/>
<line x1="750.3" y1="2222.5" x2="806.8" y2="2222.5" stroke="#ddd" stroke-width="0.9"/>
<line x1="750.3" y1="2226.5" x2="780" y2="2226.5" stroke="#ddd" stroke-width="0.9"/>
<line x1="750.3" y1="2230.4" x2="806.8" y2="2230.4" stroke="#ddd" stroke-width="0.9"/>
<line x1="810.9" y1="2207.5" x2="822.8" y2="2207.5" stroke-width="3.5" />
<line x1="810.9" y1="2233" x2="822.8" y2="2233" stroke-width="3.5" />
<line x1="1131.5" y1="2013.2" x2="743.5" y2="2535.2" stroke-width="3.5" />
<line x1="743.5" y1="2535.2" x2="584.2" y2="2535.2" stroke-width="3.5" />
<path d="M1043,2133 L1077,2066.1 L1097.1,2081 Z" fill="#181818" stroke="none"/>
<path d="M905.4,2318.6 L871.4,2385.5 L851.3,2370.6 Z" fill="#181818" stroke="none"/>
<line x1="1066" y1="1938" x2="811.1" y2="2734.4" stroke-width="3.5" />
<line x1="811.1" y1="2734.4" x2="661" y2="2734.4" stroke-width="3.5" />
<path d="M1022,2078.9 L1033.1,2004.7 L1056.9,2012.4 Z" fill="#181818" stroke="none"/>
<path d="M926.4,2372.7 L915.3,2446.9 L891.5,2439.2 Z" fill="#181818" stroke="none"/>
<path d="M19.6,12.8 C31,12.8 39.2,23.9 39.2,39.3 C39.2,54.7 31,65.8 19.6,65.8 C8.2,65.8 0,54.7 0,39.3 C0,23.9 8.2,12.8 19.6,12.8 Z M29.1,0 L10.1,80" transform="matrix(0.9210,0,0,0.9690,585.2,2427.7)" stroke-width="3.2" fill="none" vector-effect="non-scaling-stroke"/>
<path d="M12.9,0 L0,61.7 H31.8 M22.4,44 V80" transform="matrix(0.8860,0,0,0.9690,642.1,2427.7)" stroke-width="3.2" fill="none" vector-effect="non-scaling-stroke"/>
<path d="M23.5,0 H0 V35.5 H12.5 C22,35.5 27.3,43 27.3,55 V61 C27.3,73 22,80 12.5,80 H0" transform="matrix(0.8860,0,0,0.9690,691.6,2427.7)" stroke-width="3.2" fill="none" vector-effect="non-scaling-stroke"/>
<path d="M19.6,12.8 C31,12.8 39.2,23.9 39.2,39.3 C39.2,54.7 31,65.8 19.6,65.8 C8.2,65.8 0,54.7 0,39.3 C0,23.9 8.2,12.8 19.6,12.8 Z M29.1,0 L10.1,80" transform="matrix(0.9210,0,0,0.9690,661.9,2626.5)" stroke-width="3.2" fill="none" vector-effect="non-scaling-stroke"/>
<path d="M20.3,0 C8,6 0,18 0,36 V62 C0,73 6,80 13.5,80 C21,80 27,73 27,62 V52 C27,41 21,35.7 13.5,35.7 H0" transform="matrix(0.8860,0,0,0.9690,717.5,2626.5)" stroke-width="3.2" fill="none" vector-effect="non-scaling-stroke"/>
<path d="M13.3,0 C21,0 26.6,22 26.6,41 C26.6,60 21,80 13.3,80 C5.6,80 0,60 0,41 C0,22 5.6,0 13.3,0 Z" transform="matrix(0.8860,0,0,0.9690,761.6,2626.5)" stroke-width="3.2" fill="none" vector-effect="non-scaling-stroke"/>
<line x1="1255.5" y1="1810.4" x2="1255.5" y2="2518.7" stroke-width="3.5" />
<path d="M1255.5,2083.7 L1243,2009.7 L1268,2009.7 Z" fill="#181818" stroke="none"/>
<path d="M1255.5,2368.5 L1268,2442.5 L1243,2442.5 Z" fill="#181818" stroke="none"/>
<path d="M23.5,0 H0 V35.5 H12.5 C22,35.5 27.3,43 27.3,55 V61 C27.3,73 22,80 12.5,80 H0" transform="matrix(0,-0.8860,0.9690,0,1146.9,1906.9)" stroke-width="3.2" fill="none" vector-effect="non-scaling-stroke"/>
<path d="M20.3,0 C8,6 0,18 0,36 V62 C0,73 6,80 13.5,80 C21,80 27,73 27,62 V52 C27,41 21,35.7 13.5,35.7 H0" transform="matrix(0,-0.8860,0.9690,0,1146.9,1863.5)" stroke-width="3.2" fill="none" vector-effect="non-scaling-stroke"/>
<line x1="1525.9" y1="2084.8" x2="1525.9" y2="2367.2" stroke-width="3.5" />
<line x1="1608.6" y1="2074.6" x2="1608.6" y2="2692" stroke-width="3.5" />
<path d="M1526,2168.1 H1571.3 V2196.2" stroke-width="3.5" fill="none" />
<line x1="1526" y1="2171.3" x2="1566" y2="2171.3" stroke-width="2.4" />
<path d="M1538.4,2171.3 V2178 Q1538.4,2179.6 1540,2179.6 H1560.5 Q1562.1,2179.6 1562.1,2178 V2171.3" stroke-width="2.4" fill="none" />
<path d="M1558.4,2196.2 H1587.2 V2256.5 H1558.4 Z" stroke-width="3.5" fill="none" />
<path d="M1558.4,2198.8 H1583.5 V2249.4 H1558.4" stroke-width="2.2" fill="none" />
<path d="M1583,2205 Q1574,2213 1576,2217 Q1577,2222 1583,2226 Q1574,2232 1576,2238 Q1578,2243 1583,2248" stroke-width="2.2" fill="none" />
<path d="M1571.3,2256.5 V2283.1 H1526" stroke-width="3.5" fill="none" />
<line x1="1526" y1="2280" x2="1566" y2="2280" stroke-width="2.4" />
<path d="M1538.4,2280 V2270 Q1538.4,2268.3 1540,2268.3 H1560.5 Q1562.1,2268.3 1562.1,2270 V2280" stroke-width="2.4" fill="none" />
<line x1="1477.1" y1="2225.6" x2="1551.1" y2="2225.6" stroke-width="3.5" />
<line x1="1561.9" y1="2225.6" x2="1571.1" y2="2225.6" stroke-width="3.5" />
<line x1="1589.6" y1="2225.6" x2="1652.7" y2="2225.6" stroke-width="3.5" />
<line x1="1665.8" y1="2225.6" x2="1675.2" y2="2225.6" stroke-width="3.5" />
<line x1="1690.9" y1="2225.6" x2="1753.8" y2="2225.6" stroke-width="3.5" />
<line x1="1765.3" y1="2225.6" x2="1774.7" y2="2225.6" stroke-width="3.5" />
<line x1="1794.6" y1="2225.6" x2="1866.9" y2="2225.6" stroke-width="3.5" />
<line x1="1730.7" y1="2117.7" x2="1730.7" y2="2262.2" stroke-width="3.5" />
<circle cx="1730.7" cy="2225.4" r="63.2" stroke-width="3.5" fill="none"/>
<path d="M1660,2084.8 Q1666,2084.8 1668,2088 C1680,2104 1700,2131.6 1730.7,2131.6 A93.8,93.8 0 0 1 1823.7,2213 H1875.2" stroke-width="3.5" fill="none" />
<path d="M1660,2367.2 Q1666,2367.2 1668,2364 C1680,2348 1700,2319.2 1730.7,2319.2 A93.8,93.8 0 0 0 1823.6,2238.5 H1875.2" stroke-width="3.5" fill="none" />
<path d="M1875.2,2130.5 H1924.5 Q1932.5,2130.5 1934.5,2141 L1941.7,2174.2 V2276.1 L1934.5,2310 Q1932.5,2321.3 1924,2321.3 H1875.2 Z" stroke-width="3.5" fill="none" />
<path d="M1875.2,2139.1 H1923.2 Q1930,2139.1 1934,2146" stroke-width="2.6" fill="none" />
<path d="M1875.2,2168.7 H1922 Q1933.7,2168.7 1933.7,2181 V2206 Q1933.7,2218 1922,2218 H1875.2" stroke-width="3.5" fill="none" />
<path d="M1875.2,2264.4 H1922 Q1933.7,2264.4 1933.7,2276 V2293 Q1933.7,2304.6 1922,2304.6 H1875.2" stroke-width="3.5" fill="none" />
<line x1="1691.4" y1="1807.1" x2="2169.8" y2="1807.1" stroke-width="3.5" />
<line x1="1691.4" y1="2661.7" x2="2169.8" y2="2661.7" stroke-width="3.5" />
<line x1="2093.7" y1="1809" x2="2093.7" y2="2660" stroke-width="3.5" />
<path d="M2093.7,1808.3 L2106.2,1882.3 L2081.2,1882.3 Z" fill="#181818" stroke="none"/>
<path d="M2093.7,2660.5 L2081.2,2586.5 L2106.2,2586.5 Z" fill="#181818" stroke="none"/>
<path d="M0,18 L13,0 V80" transform="matrix(0,-1.0000,0.9690,0,1985.9,2319.3)" stroke-width="3.2" fill="none" vector-effect="non-scaling-stroke"/>
<path d="M20.3,0 C8,6 0,18 0,36 V62 C0,73 6,80 13.5,80 C21,80 27,73 27,62 V52 C27,41 21,35.7 13.5,35.7 H0" transform="matrix(0,-0.8860,0.9690,0,1985.9,2286.7)" stroke-width="3.2" fill="none" vector-effect="non-scaling-stroke"/>
<path d="M27,46 H13.5 C5,46 0,37 0,23 C0,8 5,0 13.5,0 C22,0 27,8 27,23 V50 C27,65 20,74 7,80" transform="matrix(0,-0.8860,0.9690,0,1985.9,2242.9)" stroke-width="3.2" fill="none" vector-effect="non-scaling-stroke"/>
<path d="M0,74 V80" transform="matrix(0,-1.0000,0.9690,0,1985.9,2200)" stroke-width="3.2" fill="none" vector-effect="non-scaling-stroke"/>
<path d="M20.3,0 C8,6 0,18 0,36 V62 C0,73 6,80 13.5,80 C21,80 27,73 27,62 V52 C27,41 21,35.7 13.5,35.7 H0" transform="matrix(0,-0.8860,0.9690,0,1985.9,2180.8)" stroke-width="3.2" fill="none" vector-effect="non-scaling-stroke"/>
<path d="M1517.1,1887.5 L1519.6,1819 Q1520,1806.8 1531,1806.8 H1687 Q1697.6,1806.8 1698,1819 L1700.8,1887.5 Z" stroke-width="3.5" fill="none" />
<line x1="1530.3" y1="1809" x2="1530.3" y2="1887.5" stroke-width="3.0" />
<line x1="1536.4" y1="1809" x2="1536.4" y2="1887.5" stroke-width="3.0" />
<line x1="1545.3" y1="1809" x2="1545.3" y2="1887.5" stroke-width="3.0" />
<line x1="1551.4" y1="1809" x2="1551.4" y2="1887.5" stroke-width="3.0" />
<line x1="1560.3" y1="1809" x2="1560.3" y2="1887.5" stroke-width="3.0" />
<line x1="1566.4" y1="1809" x2="1566.4" y2="1887.5" stroke-width="3.0" />
<line x1="1575.3" y1="1809" x2="1575.3" y2="1887.5" stroke-width="3.0" />
<line x1="1581.4" y1="1809" x2="1581.4" y2="1887.5" stroke-width="3.0" />
<line x1="1590.3" y1="1809" x2="1590.3" y2="1887.5" stroke-width="3.0" />
<line x1="1596.4" y1="1809" x2="1596.4" y2="1887.5" stroke-width="3.0" />
<line x1="1605.3" y1="1809" x2="1605.3" y2="1887.5" stroke-width="3.0" />
<line x1="1611.4" y1="1809" x2="1611.4" y2="1887.5" stroke-width="3.0" />
<line x1="1620.3" y1="1809" x2="1620.3" y2="1887.5" stroke-width="3.0" />
<line x1="1626.4" y1="1809" x2="1626.4" y2="1887.5" stroke-width="3.0" />
<line x1="1635.3" y1="1809" x2="1635.3" y2="1887.5" stroke-width="3.0" />
<line x1="1641.4" y1="1809" x2="1641.4" y2="1887.5" stroke-width="3.0" />
<line x1="1650.3" y1="1809" x2="1650.3" y2="1887.5" stroke-width="3.0" />
<line x1="1656.4" y1="1809" x2="1656.4" y2="1887.5" stroke-width="3.0" />
<line x1="1665.3" y1="1809" x2="1665.3" y2="1887.5" stroke-width="3.0" />
<line x1="1671.4" y1="1809" x2="1671.4" y2="1887.5" stroke-width="3.0" />
<line x1="1680.3" y1="1809" x2="1680.3" y2="1887.5" stroke-width="3.0" />
<line x1="1686.4" y1="1809" x2="1686.4" y2="1887.5" stroke-width="3.0" />
<path d="M1517.1,1887.5 L1488.2,1897.9 M1700.8,1887.5 L1729,1897.9" stroke-width="3.5" fill="none" />
<path d="M1474.4,1897.9 H1743.7 L1748,1903.5 L1751.1,2019.1 H1467.2 L1469.2,1903.5 Z" stroke-width="3.5" fill="none" />
<line x1="1469.2" y1="1903.5" x2="1748" y2="1903.5" stroke-width="2.2" />
<path d="M1477.3,1912 Q1477.3,1905.5 1483.6,1905.5 Q1489.9,1905.5 1489.9,1912 V2005 Q1489.9,2007 1487.9,2007 H1479.3 Q1477.3,2007 1477.3,2005 Z" stroke-width="2.6" fill="none" />
<path d="M1499.9,1912 Q1499.9,1905.5 1506.2,1905.5 Q1512.5,1905.5 1512.5,1912 V2005 Q1512.5,2007 1510.5,2007 H1501.9 Q1499.9,2007 1499.9,2005 Z" stroke-width="2.6" fill="none" />
<path d="M1522.5,1912 Q1522.5,1905.5 1528.8,1905.5 Q1535.1,1905.5 1535.1,1912 V2005 Q1535.1,2007 1533.1,2007 H1524.5 Q1522.5,2007 1522.5,2005 Z" stroke-width="2.6" fill="none" />
<path d="M1545.1,1912 Q1545.1,1905.5 1551.4,1905.5 Q1557.7,1905.5 1557.7,1912 V2005 Q1557.7,2007 1555.7,2007 H1547.1 Q1545.1,2007 1545.1,2005 Z" stroke-width="2.6" fill="none" />
<path d="M1567.7,1912 Q1567.7,1905.5 1574,1905.5 Q1580.3,1905.5 1580.3,1912 V2005 Q1580.3,2007 1578.3,2007 H1569.7 Q1567.7,2007 1567.7,2005 Z" stroke-width="2.6" fill="none" />
<path d="M1590.3,1912 Q1590.3,1905.5 1596.6,1905.5 Q1602.9,1905.5 1602.9,1912 V2005 Q1602.9,2007 1600.9,2007 H1592.3 Q1590.3,2007 1590.3,2005 Z" stroke-width="2.6" fill="none" />
<path d="M1612.9,1912 Q1612.9,1905.5 1619.2,1905.5 Q1625.5,1905.5 1625.5,1912 V2005 Q1625.5,2007 1623.5,2007 H1614.9 Q1612.9,2007 1612.9,2005 Z" stroke-width="2.6" fill="none" />
<path d="M1635.5,1912 Q1635.5,1905.5 1641.8,1905.5 Q1648.1,1905.5 1648.1,1912 V2005 Q1648.1,2007 1646.1,2007 H1637.5 Q1635.5,2007 1635.5,2005 Z" stroke-width="2.6" fill="none" />
<path d="M1658.1,1912 Q1658.1,1905.5 1664.4,1905.5 Q1670.7,1905.5 1670.7,1912 V2005 Q1670.7,2007 1668.7,2007 H1660.1 Q1658.1,2007 1658.1,2005 Z" stroke-width="2.6" fill="none" />
<path d="M1680.7,1912 Q1680.7,1905.5 1687,1905.5 Q1693.3,1905.5 1693.3,1912 V2005 Q1693.3,2007 1691.3,2007 H1682.7 Q1680.7,2007 1680.7,2005 Z" stroke-width="2.6" fill="none" />
<path d="M1703.3,1912 Q1703.3,1905.5 1709.6,1905.5 Q1715.9,1905.5 1715.9,1912 V2005 Q1715.9,2007 1713.9,2007 H1705.3 Q1703.3,2007 1703.3,2005 Z" stroke-width="2.6" fill="none" />
<path d="M1725.9,1912 Q1725.9,1905.5 1732.2,1905.5 Q1738.5,1905.5 1738.5,1912 V2005 Q1738.5,2007 1736.5,2007 H1727.9 Q1725.9,2007 1725.9,2005 Z" stroke-width="2.6" fill="none" />
<path d="M1490.3,2019.1 V2071.5 L1495.5,2076.7 H1722.8 L1727,2071.5 V2019.1" stroke-width="3.5" fill="none" />
<line x1="1490.3" y1="2071.5" x2="1727" y2="2071.5" stroke-width="2.6" />
<path d="M1557.7,2076.7 V2084.8 M1659.9,2076.7 V2084.8" stroke-width="3.5" fill="none" />
<path d="M1557.7,2367.2 V2374.6 M1660,2367.2 V2374.6" stroke-width="3.5" fill="none" />
<path d="M1496,2374.6 H1721 L1728,2381.5 V2440.5 L1721,2447.3 H1496 L1489.2,2440.5 V2381.5 Z" stroke-width="3.5" fill="none" />
<line x1="1489.2" y1="2382" x2="1728" y2="2382" stroke-width="2.6" />
<line x1="1489.2" y1="2443.1" x2="1728" y2="2443.1" stroke-width="2.6" />
<line x1="1496.6" y1="2382" x2="1496.6" y2="2443.1" stroke-width="3.0" />
<line x1="1506.7" y1="2382" x2="1506.7" y2="2443.1" stroke-width="3.0" />
<line x1="1516.7" y1="2382" x2="1516.7" y2="2443.1" stroke-width="3.0" />
<line x1="1526.8" y1="2382" x2="1526.8" y2="2443.1" stroke-width="3.0" />
<line x1="1536.9" y1="2382" x2="1536.9" y2="2443.1" stroke-width="3.0" />
<line x1="1546.9" y1="2382" x2="1546.9" y2="2443.1" stroke-width="3.0" />
<line x1="1557" y1="2382" x2="1557" y2="2443.1" stroke-width="3.0" />
<line x1="1567.1" y1="2382" x2="1567.1" y2="2443.1" stroke-width="3.0" />
<line x1="1577.2" y1="2382" x2="1577.2" y2="2443.1" stroke-width="3.0" />
<line x1="1587.2" y1="2382" x2="1587.2" y2="2443.1" stroke-width="3.0" />
<line x1="1597.3" y1="2382" x2="1597.3" y2="2443.1" stroke-width="3.0" />
<line x1="1607.4" y1="2382" x2="1607.4" y2="2443.1" stroke-width="3.0" />
<line x1="1617.4" y1="2382" x2="1617.4" y2="2443.1" stroke-width="3.0" />
<line x1="1627.5" y1="2382" x2="1627.5" y2="2443.1" stroke-width="3.0" />
<line x1="1637.6" y1="2382" x2="1637.6" y2="2443.1" stroke-width="3.0" />
<line x1="1647.6" y1="2382" x2="1647.6" y2="2443.1" stroke-width="3.0" />
<line x1="1657.7" y1="2382" x2="1657.7" y2="2443.1" stroke-width="3.0" />
<line x1="1667.8" y1="2382" x2="1667.8" y2="2443.1" stroke-width="3.0" />
<line x1="1677.9" y1="2382" x2="1677.9" y2="2443.1" stroke-width="3.0" />
<line x1="1687.9" y1="2382" x2="1687.9" y2="2443.1" stroke-width="3.0" />
<line x1="1698" y1="2382" x2="1698" y2="2443.1" stroke-width="3.0" />
<line x1="1708.1" y1="2382" x2="1708.1" y2="2443.1" stroke-width="3.0" />
<line x1="1718.1" y1="2382" x2="1718.1" y2="2443.1" stroke-width="3.0" />
<path d="M1466.8,2449 H1750 L1750,2563.3 L1743.7,2570.6 H1474.6 L1468.3,2563.3 Z" stroke-width="3.5" fill="none" />
<line x1="1468.3" y1="2563.3" x2="1750" y2="2563.3" stroke-width="2.2" />
<path d="M1477.3,2554 Q1477.3,2560.5 1483.6,2560.5 Q1489.9,2560.5 1489.9,2554 V2463.5 Q1489.9,2461.5 1487.9,2461.5 H1479.3 Q1477.3,2461.5 1477.3,2463.5 Z" stroke-width="2.6" fill="none" />
<path d="M1499.9,2554 Q1499.9,2560.5 1506.2,2560.5 Q1512.5,2560.5 1512.5,2554 V2463.5 Q1512.5,2461.5 1510.5,2461.5 H1501.9 Q1499.9,2461.5 1499.9,2463.5 Z" stroke-width="2.6" fill="none" />
<path d="M1522.5,2554 Q1522.5,2560.5 1528.8,2560.5 Q1535.1,2560.5 1535.1,2554 V2463.5 Q1535.1,2461.5 1533.1,2461.5 H1524.5 Q1522.5,2461.5 1522.5,2463.5 Z" stroke-width="2.6" fill="none" />
<path d="M1545.1,2554 Q1545.1,2560.5 1551.4,2560.5 Q1557.7,2560.5 1557.7,2554 V2463.5 Q1557.7,2461.5 1555.7,2461.5 H1547.1 Q1545.1,2461.5 1545.1,2463.5 Z" stroke-width="2.6" fill="none" />
<path d="M1567.7,2554 Q1567.7,2560.5 1574,2560.5 Q1580.3,2560.5 1580.3,2554 V2463.5 Q1580.3,2461.5 1578.3,2461.5 H1569.7 Q1567.7,2461.5 1567.7,2463.5 Z" stroke-width="2.6" fill="none" />
<path d="M1590.3,2554 Q1590.3,2560.5 1596.6,2560.5 Q1602.9,2560.5 1602.9,2554 V2463.5 Q1602.9,2461.5 1600.9,2461.5 H1592.3 Q1590.3,2461.5 1590.3,2463.5 Z" stroke-width="2.6" fill="none" />
<path d="M1612.9,2554 Q1612.9,2560.5 1619.2,2560.5 Q1625.5,2560.5 1625.5,2554 V2463.5 Q1625.5,2461.5 1623.5,2461.5 H1614.9 Q1612.9,2461.5 1612.9,2463.5 Z" stroke-width="2.6" fill="none" />
<path d="M1635.5,2554 Q1635.5,2560.5 1641.8,2560.5 Q1648.1,2560.5 1648.1,2554 V2463.5 Q1648.1,2461.5 1646.1,2461.5 H1637.5 Q1635.5,2461.5 1635.5,2463.5 Z" stroke-width="2.6" fill="none" />
<path d="M1658.1,2554 Q1658.1,2560.5 1664.4,2560.5 Q1670.7,2560.5 1670.7,2554 V2463.5 Q1670.7,2461.5 1668.7,2461.5 H1660.1 Q1658.1,2461.5 1658.1,2463.5 Z" stroke-width="2.6" fill="none" />
<path d="M1680.7,2554 Q1680.7,2560.5 1687,2560.5 Q1693.3,2560.5 1693.3,2554 V2463.5 Q1693.3,2461.5 1691.3,2461.5 H1682.7 Q1680.7,2461.5 1680.7,2463.5 Z" stroke-width="2.6" fill="none" />
<path d="M1703.3,2554 Q1703.3,2560.5 1709.6,2560.5 Q1715.9,2560.5 1715.9,2554 V2463.5 Q1715.9,2461.5 1713.9,2461.5 H1705.3 Q1703.3,2461.5 1703.3,2463.5 Z" stroke-width="2.6" fill="none" />
<path d="M1725.9,2554 Q1725.9,2560.5 1732.2,2560.5 Q1738.5,2560.5 1738.5,2554 V2463.5 Q1738.5,2461.5 1736.5,2461.5 H1727.9 Q1725.9,2461.5 1725.9,2463.5 Z" stroke-width="2.6" fill="none" />
<path d="M1489.2,2571.7 L1516.5,2580 M1719.6,2571.7 L1700.8,2580" stroke-width="3.5" fill="none" />
<path d="M1516.5,2580 H1700.8 L1697.6,2650 Q1697,2661.7 1686,2661.7 H1532 Q1521,2661.7 1520.6,2650 Z" stroke-width="3.5" fill="none" />
<line x1="1530.3" y1="2582" x2="1530.3" y2="2660" stroke-width="3.0" />
<line x1="1536.4" y1="2582" x2="1536.4" y2="2660" stroke-width="3.0" />
<line x1="1545.3" y1="2582" x2="1545.3" y2="2660" stroke-width="3.0" />
<line x1="1551.4" y1="2582" x2="1551.4" y2="2660" stroke-width="3.0" />
<line x1="1560.3" y1="2582" x2="1560.3" y2="2660" stroke-width="3.0" />
<line x1="1566.4" y1="2582" x2="1566.4" y2="2660" stroke-width="3.0" />
<line x1="1575.3" y1="2582" x2="1575.3" y2="2660" stroke-width="3.0" />
<line x1="1581.4" y1="2582" x2="1581.4" y2="2660" stroke-width="3.0" />
<line x1="1590.3" y1="2582" x2="1590.3" y2="2660" stroke-width="3.0" />
<line x1="1596.4" y1="2582" x2="1596.4" y2="2660" stroke-width="3.0" />
<line x1="1605.3" y1="2582" x2="1605.3" y2="2660" stroke-width="3.0" />
<line x1="1611.4" y1="2582" x2="1611.4" y2="2660" stroke-width="3.0" />
<line x1="1620.3" y1="2582" x2="1620.3" y2="2660" stroke-width="3.0" />
<line x1="1626.4" y1="2582" x2="1626.4" y2="2660" stroke-width="3.0" />
<line x1="1635.3" y1="2582" x2="1635.3" y2="2660" stroke-width="3.0" />
<line x1="1641.4" y1="2582" x2="1641.4" y2="2660" stroke-width="3.0" />
<line x1="1650.3" y1="2582" x2="1650.3" y2="2660" stroke-width="3.0" />
<line x1="1656.4" y1="2582" x2="1656.4" y2="2660" stroke-width="3.0" />
<line x1="1665.3" y1="2582" x2="1665.3" y2="2660" stroke-width="3.0" />
<line x1="1671.4" y1="2582" x2="1671.4" y2="2660" stroke-width="3.0" />
<line x1="1680.3" y1="2582" x2="1680.3" y2="2660" stroke-width="3.0" />
<line x1="1686.4" y1="2582" x2="1686.4" y2="2660" stroke-width="3.0" />
<path d="M33,6.3 C28,1.5 22,0 16.2,0 C6,0 0,9 0,21 C0,26 1,30 5,33 L31,53 C35,56.5 37.6,63 37.6,71 C37.6,84 31,92.6 22.5,92.6 C14,92.6 6,87 0.9,81.4" transform="matrix(0.9070,0,0,0.9650,1028,2987.6)" stroke-width="3.2" fill="none" vector-effect="non-scaling-stroke"/>
<path d="M29.6,0 H0 V92.6 M0,41.1 H29.6" transform="matrix(0.9460,0,0,0.9650,1084.3,2987.6)" stroke-width="3.2" fill="none" vector-effect="non-scaling-stroke"/>
<path d="M0,18 L13,0 V80" transform="matrix(1.1175,0,0,1.1175,1134.2,2987.6)" stroke-width="3.2" fill="none" vector-effect="non-scaling-stroke"/>
<path d="M13.3,0 C21,0 26.6,22 26.6,41 C26.6,60 21,80 13.3,80 C5.6,80 0,60 0,41 C0,22 5.6,0 13.3,0 Z" transform="matrix(1.0376,0,0,1.1175,1170.8,2987.6)" stroke-width="3.2" fill="none" vector-effect="non-scaling-stroke"/></g></svg>
</body></html>
